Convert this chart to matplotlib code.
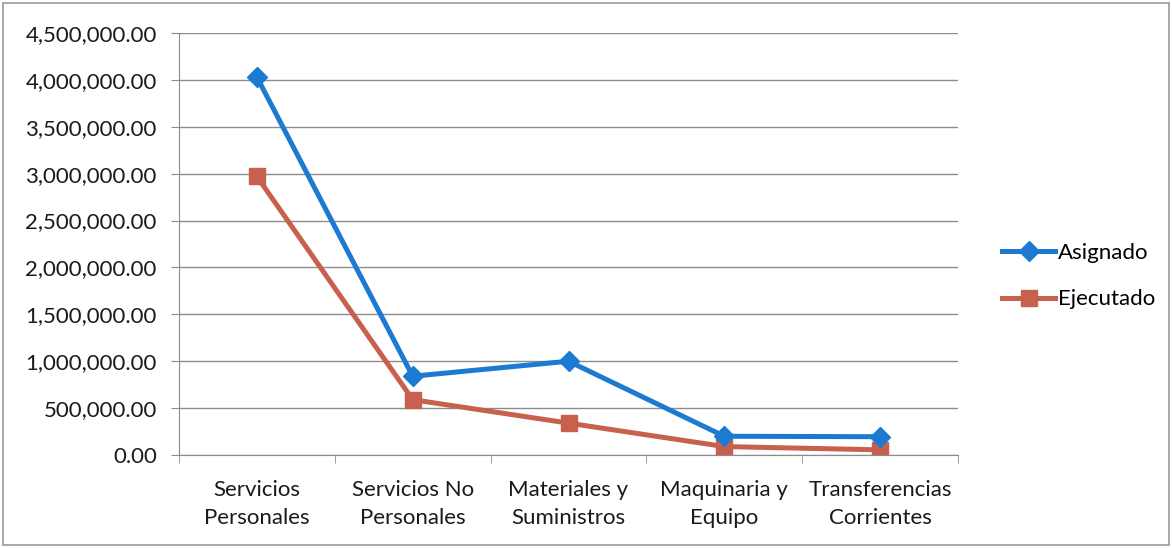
import matplotlib
matplotlib.use("Agg")
import matplotlib.pyplot as plt
from matplotlib.ticker import FuncFormatter, MultipleLocator
from matplotlib.patches import Rectangle

categories = ["Servicios\nPersonales", "Servicios No\nPersonales", "Materiales y\nSuministros",
              "Maquinaria y\nEquipo", "Transferencias\nCorrientes"]
asignado = [4030000, 840000, 1000000, 200000, 195000]
ejecutado = [2970000, 590000, 340000, 90000, 55000]

plt.rcParams['font.family'] = ['Lato', 'DejaVu Sans']

fig = plt.figure(figsize=(11.72, 5.48), dpi=100)
ax = fig.add_axes([179/1172, 1-455/548, (958-179)/1172, (455-33)/548])

x = list(range(len(categories)))
ax.plot(x, asignado, color='#1C7AD2', lw=3.6, marker='D', ms=10, label='Asignado', zorder=3)
ax.plot(x, ejecutado, color='#C8604E', lw=3.6, marker='s', ms=12, label='Ejecutado', zorder=2)

ax.set_xlim(-0.5, 4.5)
ax.set_ylim(0, 4500000)
ax.yaxis.set_major_locator(MultipleLocator(500000))
ax.yaxis.set_major_formatter(FuncFormatter(lambda v, p: f"{v:,.2f}"))
ax.grid(axis='y', color='#8c8c8c', lw=1)
ax.set_axisbelow(True)
for s in ['top', 'right']:
    ax.spines[s].set_visible(False)
ax.spines['left'].set_color('#8c8c8c')
ax.spines['bottom'].set_color('#8c8c8c')
ax.set_xticks(x)
ax.set_xticklabels(categories, fontsize=16, color='#1a1a1a', linespacing=1.5)
ax.set_xticks([i - 0.5 for i in range(len(categories) + 1)], minor=True)
ax.tick_params(axis='x', which='major', length=0, pad=18)
ax.tick_params(axis='x', which='minor', length=6, color='#8c8c8c')
ax.tick_params(axis='y', length=6, color='#8c8c8c', labelsize=16, labelcolor='#1a1a1a', pad=10)

leg = ax.legend(loc='center left', bbox_to_anchor=(982/1172, 1-276/548), bbox_transform=fig.transFigure,
                frameon=False, fontsize=16, handlelength=2.4, handletextpad=0.1, labelspacing=1.2)

fig.patches.append(Rectangle((3/1172, 3/548), 1-6/1172, 1-6/548, transform=fig.transFigure,
                             fill=False, edgecolor='#9a9a9a', lw=1.2))

fig.savefig("out.png", dpi=100)
